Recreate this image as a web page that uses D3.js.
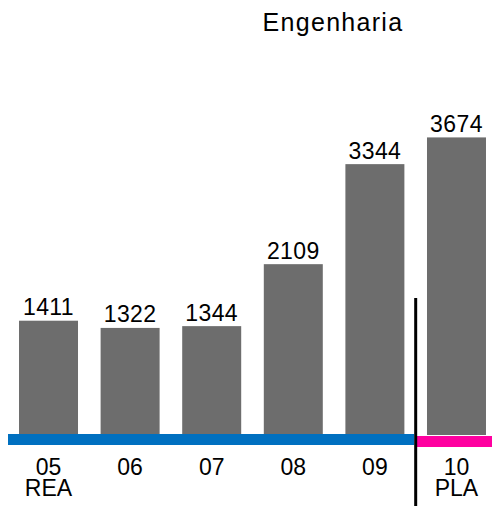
<!DOCTYPE html>
<html>
<head>
<meta charset="utf-8">
<script src="https://cdn.jsdelivr.net/npm/d3@7"></script>
<style>
  body { margin: 0; background: #fff; }
  text { font-family: "Liberation Sans", Arial, sans-serif; fill: #000; }
</style>
</head>
<body>
<script>
// chart data
const categories = ["05", "06", "07", "08", "09", "10"];
const values = [1411, 1322, 1344, 2109, 3344, 3674];
const periodLabels = ["REA", "", "", "", "", "PLA"];
const title = "Engenharia";

const width = 492;
const height = 506;
const baseY = 435;

const svg = d3.select("body").append("svg")
    .attr("width", width)
    .attr("height", height);

const x = d3.scaleBand()
    .domain(categories)
    .range([8, 497])
    .paddingInner(0.277)
    .paddingOuter(0.135);

const y = d3.scaleLinear()
    .domain([0, 4000])
    .range([baseY, 111]);

// title
svg.append("text")
    .attr("x", 333)
    .attr("y", 31)
    .attr("text-anchor", "middle")
    .style("font-size", "25px")
    .style("letter-spacing", "1.3px")
    .text(title);

// bars
svg.append("g")
    .selectAll("rect")
    .data(values)
    .enter().append("rect")
        .attr("x", (d, i) => x(categories[i]))
        .attr("y", d => y(d))
        .attr("width", x.bandwidth())
        .attr("height", d => y(0) - y(d))
        .attr("fill", "#6d6d6d");

// value labels
svg.append("g")
    .selectAll("text")
    .data(values)
    .enter().append("text")
        .attr("x", (d, i) => x(categories[i]) + x.bandwidth() / 2)
        .attr("y", d => y(d) - 5.5)
        .attr("text-anchor", "middle")
        .style("font-size", "23px")
        .style("letter-spacing", "0.4px")
        .text(d => d);

// divider between actual and planned
const gap = x.step() * x.paddingInner();
const splitX = x("10") - gap / 2;

svg.append("rect")
    .attr("x", 8)
    .attr("y", 434)
    .attr("width", splitX - 1.5 - 8)
    .attr("height", 11)
    .attr("fill", "#0070c0");

svg.append("rect")
    .attr("x", splitX + 1)
    .attr("y", 436)
    .attr("width", width - splitX - 1)
    .attr("height", 11)
    .attr("fill", "#ff00a0");

svg.append("line")
    .attr("x1", splitX)
    .attr("x2", splitX)
    .attr("y1", 298)
    .attr("y2", height)
    .attr("stroke", "#000")
    .attr("stroke-width", 3);

// category labels
svg.append("g")
    .selectAll("text")
    .data(categories)
    .enter().append("text")
        .attr("x", d => x(d) + x.bandwidth() / 2)
        .attr("y", 475)
        .attr("text-anchor", "middle")
        .style("font-size", "23px")
        .text(d => d);

svg.append("g")
    .selectAll("text")
    .data(categories)
    .enter().append("text")
        .attr("x", d => x(d) + x.bandwidth() / 2)
        .attr("y", 496)
        .attr("text-anchor", "middle")
        .style("font-size", "23px")
        .text((d, i) => periodLabels[i]);
</script>
</body>
</html>
